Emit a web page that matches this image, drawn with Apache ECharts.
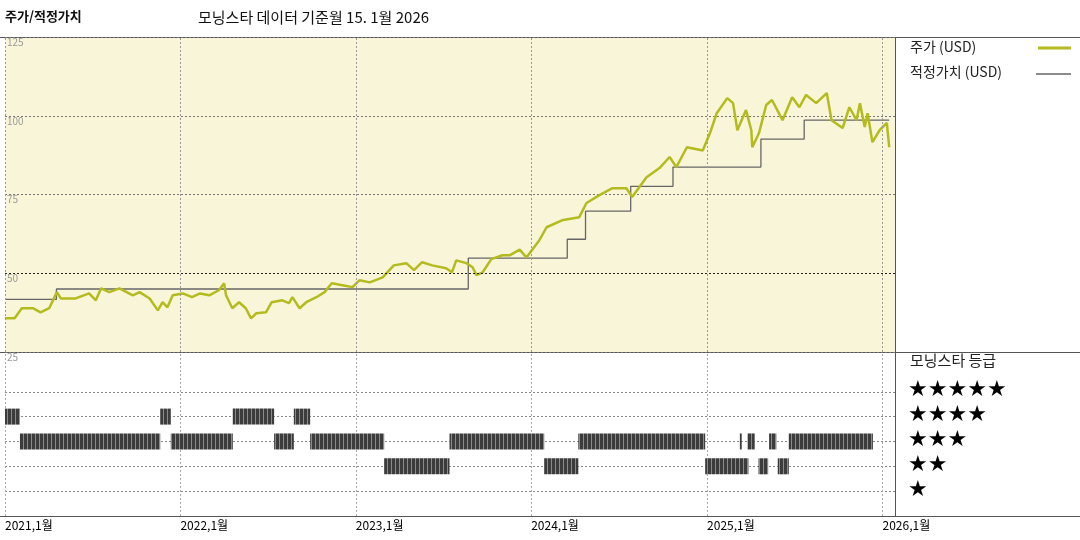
<!DOCTYPE html>
<html>
<head>
<meta charset="utf-8">
<script src="https://cdn.jsdelivr.net/npm/echarts@6/dist/echarts.min.js"></script>
<style>
    html, body { margin: 0; padding: 0; background: #fff; }
    #chart { width: 1080px; height: 540px; }
</style>
</head>
<body>
<div id="chart"></div>
<script>
    // 주가 (USD)
    var priceDates = ['2021-01-01','2021-01-21','2021-02-05','2021-02-28','2021-03-16','2021-04-03','2021-04-19','2021-04-27','2021-05-28','2021-06-25','2021-07-09','2021-07-20','2021-08-06','2021-08-27','2021-09-24','2021-10-08','2021-10-29','2021-11-15','2021-11-25','2021-12-05','2021-12-16',
        '2022-01-06','2022-01-25','2022-02-11','2022-03-02','2022-03-22','2022-04-02','2022-04-06','2022-04-19','2022-05-03','2022-05-17','2022-05-28','2022-06-08','2022-06-28','2022-07-10','2022-08-01','2022-08-15','2022-08-22','2022-09-06','2022-09-20','2022-10-11','2022-10-28','2022-11-12','2022-12-04','2022-12-25',
        '2023-01-09','2023-01-30','2023-02-26','2023-03-21','2023-04-16','2023-05-02','2023-05-19','2023-06-09','2023-07-08','2023-07-20','2023-07-29','2023-08-19','2023-09-01','2023-09-09','2023-09-22','2023-10-10','2023-11-02','2023-11-17','2023-12-08','2023-12-22',
        '2024-01-18','2024-02-02','2024-03-05','2024-04-10','2024-04-25','2024-05-22','2024-06-18','2024-07-17','2024-07-29','2024-08-28','2024-09-24','2024-10-15','2024-10-29','2024-11-20','2024-12-23',
        '2025-01-07','2025-01-21','2025-02-12','2025-02-24','2025-03-05','2025-03-23','2025-04-03','2025-04-05','2025-04-19','2025-05-04','2025-05-16','2025-06-07','2025-06-27','2025-07-12','2025-07-26','2025-08-16','2025-09-07','2025-09-17','2025-10-10','2025-10-24','2025-11-08','2025-11-15','2025-11-25','2025-12-01','2025-12-11','2025-12-26','2026-01-10','2026-01-15'];
    var priceValues = [35.7,35.7,38.9,38.9,37.6,38.9,44,42,42,43.6,41.4,45.2,44,45.2,43,44,42,38.2,40.8,39.2,43,
        43.6,42.4,43.6,43,44.6,46.8,43,38.9,40.8,38.9,35.7,37.3,37.6,40.8,41.4,40.5,42.4,38.9,40.8,42.4,44,46.8,46.2,45.6,
        47.8,47.1,48.7,52.5,53.2,51,53.5,52.5,51.6,50.3,54.1,53.2,51.9,49.4,50.3,54.5,55.7,55.7,57.5,55,
        60.5,64.6,66.8,67.8,72.3,74.8,77,77,74.2,80.5,83.4,86.9,83.7,90,89,
        94.5,100.8,105.6,104,95.4,101.8,95.4,90,94.5,103.4,105,98.6,105.9,102.7,106.6,104,107.2,98.6,96.1,102.7,98.6,104,96.4,100.8,91.6,95.4,97.7,90];

    // 적정가치 (USD)
    var fairDates = ['2021-01-01','2021-04-18','2023-08-23','2024-03-16','2024-04-23','2024-07-26','2024-10-22','2025-04-23','2025-07-22','2026-01-15'];
    var fairValues = [41.7,45,54.8,60.8,69.7,77.6,83.7,92.6,98.6,98.6];

    // 모닝스타 등급 구간: 시작, 끝, 별 개수
    var ratingStart = ['2021-01-01','2021-02-01','2021-11-20','2021-12-12','2022-04-20','2022-07-15','2022-08-25','2022-09-28','2023-03-01','2023-07-15','2024-01-28','2024-04-08','2024-12-28','2025-03-10','2025-03-26','2025-04-18','2025-05-10','2025-05-28','2025-06-20'];
    var ratingEnd   = ['2021-02-01','2021-11-20','2021-12-12','2022-04-20','2022-07-15','2022-08-25','2022-09-28','2023-03-01','2023-07-15','2024-01-28','2024-04-08','2024-12-28','2025-03-28','2025-03-14','2025-04-10','2025-05-08','2025-05-25','2025-06-20','2025-12-12'];
    var ratingStars = [4,3,4,3,4,3,4,3,2,3,2,3,2,3,3,2,3,2,3];

    var yearTicks = ['2021-01-01','2022-01-01','2023-01-01','2024-01-01','2025-01-01','2026-01-01'];
    var priceTicks = [25, 50, 75, 100, 125];
    var starRows = [1, 2, 3, 4, 5];

    function ms(d) { return +new Date(d); }
    var tickMs = yearTicks.map(ms);
    var xMin = ms('2021-01-01');
    var xMax = ms('2026-01-27');

    // hatched fill for rating bars
    var hatch = document.createElement('canvas');
    hatch.width = 4; hatch.height = 16;
    var hc = hatch.getContext('2d');
    hc.fillStyle = '#3c3c3c'; hc.fillRect(0, 0, 4, 16);
    hc.fillStyle = '#8a8a8a'; hc.fillRect(3, 0, 1, 16);

    var chart = echarts.init(document.getElementById('chart'));

    function xAxis(grid, labels) {
        return {
            gridIndex: grid, type: 'value', min: xMin, max: xMax,
            axisLine: { show: false }, axisTick: { show: false }, splitLine: { show: false },
            axisLabel: labels ? {
                customValues: tickMs, align: 'left', margin: 3, color: '#000', fontSize: 12,
                formatter: function (v) { return new Date(v).getFullYear() + ',1월'; }
            } : { show: false }
        };
    }

    chart.setOption({
        animation: false,
        textStyle: { fontFamily: 'Noto Sans CJK KR' },
        grid: [
            { left: 5, top: 37, width: 890, height: 315, show: true, backgroundColor: '#f9f5d8', borderWidth: 0 },
            { left: 5, top: 352, width: 890, height: 164, show: false }
        ],
        xAxis: [xAxis(0, false), xAxis(1, true)],
        yAxis: [
            {
                gridIndex: 0, type: 'value', min: 25, max: 125, interval: 25,
                axisLine: { show: false }, axisTick: { show: false },
                axisLabel: { inside: true, verticalAlign: 'top', margin: 2, color: '#9a9a9a', fontSize: 10 },
                splitLine: { lineStyle: { color: '#777', type: [2, 2], width: 1 } }
            },
            {
                gridIndex: 1, type: 'value', min: 0, max: 6.6,
                axisLine: { show: false }, axisTick: { show: false },
                axisLabel: { show: false }, splitLine: { show: false }
            }
        ],
        series: [
            {
                name: '적정가치 (USD)', type: 'line', xAxisIndex: 0, yAxisIndex: 0, step: 'end', symbol: 'none',
                data: fairDates.map(function (d, i) { return [ms(d), fairValues[i]]; }),
                lineStyle: { color: '#666', width: 1.3 },
                markLine: {
                    silent: true, symbol: 'none', label: { show: false },
                    data: [{ yAxis: 50, lineStyle: { color: '#222', type: [2, 2], width: 1 } }]
                        .concat(tickMs.map(function (t) { return { xAxis: t, lineStyle: { color: '#999', type: [2, 2], width: 1 } }; }))
                }
            },
            {
                name: '주가 (USD)', type: 'line', xAxisIndex: 0, yAxisIndex: 0, symbol: 'none',
                data: priceDates.map(function (d, i) { return [ms(d), priceValues[i]]; }),
                lineStyle: { color: '#b4bb1e', width: 2.5 }
            },
            {
                type: 'custom', xAxisIndex: 1, yAxisIndex: 1,
                data: ratingStart.map(function (d, i) { return [ms(d), ms(ratingEnd[i]), ratingStars[i]]; }),
                renderItem: function (params, api) {
                    var p0 = api.coord([api.value(0), api.value(2)]);
                    var p1 = api.coord([api.value(1), api.value(2)]);
                    return { type: 'rect', shape: { x: p0[0], y: p0[1] - 8, width: Math.max(p1[0] - p0[0], 1.5), height: 16 },
                        style: { fill: { image: hatch, repeat: 'repeat' } } };
                },
                markLine: {
                    silent: true, symbol: 'none', label: { show: false }, z: 0,
                    data: starRows.map(function (r) { return { yAxis: r, lineStyle: { color: '#888', type: [2, 2], width: 1 } }; })
                        .concat(tickMs.map(function (t) { return { xAxis: t, lineStyle: { color: '#aaa', type: [2, 2], width: 1 } }; }))
                }
            }
        ],
        graphic: [
            { type: 'text', left: 5, top: 10, style: { text: '주가/적정가치', fontSize: 13, fontWeight: 'bold', fill: '#111', fontFamily: 'Noto Sans CJK KR' } },
            { type: 'text', left: 198, top: 10, style: { text: '모닝스타 데이터 기준월 15. 1월 2026', fontSize: 15, fill: '#111', fontFamily: 'Noto Sans CJK KR' } },
            { type: 'line', shape: { x1: 0, y1: 37.5, x2: 1080, y2: 37.5 }, style: { stroke: '#555', lineWidth: 1 } },
            { type: 'line', shape: { x1: 0, y1: 352.5, x2: 1080, y2: 352.5 }, style: { stroke: '#555', lineWidth: 1 } },
            { type: 'line', shape: { x1: 0, y1: 516.5, x2: 1080, y2: 516.5 }, style: { stroke: '#555', lineWidth: 1 } },
            { type: 'line', shape: { x1: 895.5, y1: 37, x2: 895.5, y2: 516 }, style: { stroke: '#555', lineWidth: 1 } },
            { type: 'text', left: 910, top: 40, style: { text: '주가 (USD)', fontSize: 14, fill: '#222', fontFamily: 'Noto Sans CJK KR' } },
            { type: 'line', shape: { x1: 1038, y1: 48, x2: 1071, y2: 48 }, style: { stroke: '#b4bb1e', lineWidth: 3 } },
            { type: 'text', left: 910, top: 65, style: { text: '적정가치 (USD)', fontSize: 14, fill: '#222', fontFamily: 'Noto Sans CJK KR' } },
            { type: 'line', shape: { x1: 1036, y1: 74, x2: 1071, y2: 74 }, style: { stroke: '#666', lineWidth: 1.3 } },
            { type: 'text', left: 910, top: 353, style: { text: '모닝스타 등급', fontSize: 15, fill: '#222', fontFamily: 'Noto Sans CJK KR' } },
            { type: 'text', left: 908, top: 379, style: { text: '★★★★★', fontSize: 22, fill: '#000', fontFamily: 'DejaVu Sans' } },
            { type: 'text', left: 908, top: 404, style: { text: '★★★★', fontSize: 22, fill: '#000', fontFamily: 'DejaVu Sans' } },
            { type: 'text', left: 908, top: 429, style: { text: '★★★', fontSize: 22, fill: '#000', fontFamily: 'DejaVu Sans' } },
            { type: 'text', left: 908, top: 454, style: { text: '★★', fontSize: 22, fill: '#000', fontFamily: 'DejaVu Sans' } },
            { type: 'text', left: 908, top: 479, style: { text: '★', fontSize: 22, fill: '#000', fontFamily: 'DejaVu Sans' } }
        ]
    });
</script>
</body>
</html>
